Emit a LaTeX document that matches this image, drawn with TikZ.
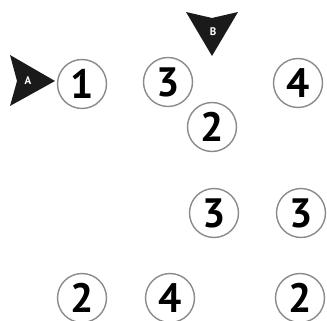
\documentclass[tikz,border=0pt]{standalone}
\usepackage{fontspec}
\setmainfont{PT Sans}
\definecolor{ringgray}{HTML}{8A8A8A}
\definecolor{marker}{HTML}{1A1A1A}
\begin{document}
\begin{tikzpicture}[x=1pt,y=-1pt,
  num/.style={circle,draw=ringgray,line width=1.4pt,minimum size=49pt,inner sep=0pt,
    font=\fontsize{41}{41}\selectfont\bfseries,text=black},
  mk/.style={fill=marker,draw=none},
  mklabel/.style={text=white,font=\fontsize{11}{11}\selectfont\bfseries,inner sep=0pt}]
\useasboundingbox (0,0) rectangle (327,321);
\begin{scope}
\clip (0,0) rectangle (327,321);
\node[num] (n1) at (82,84) {1};
\node[num] (n2) at (168,82) {3};
\node[num] (n3) at (298,83) {4};
\node[num] (n4) at (212,127) {2};
\node[num] (n5) at (214,213) {3};
\node[num] (n6) at (301,213) {3};
\node[num] (n7) at (82,298) {2};
\node[num] (n8) at (170,298) {4};
\node[num] (n9) at (300,298) {2};
\end{scope}
% marker A
\fill[mk] (10,55) -- (55,81) -- (10,106) -- (17,81) -- cycle;
\node[mklabel] (la) at (28,81) {A};
% marker B
\fill[mk] (186,12) -- (212,18) -- (238,12) -- (212,56) -- cycle;
\node[mklabel] (lb) at (213,32) {B};
\end{tikzpicture}
\end{document}
